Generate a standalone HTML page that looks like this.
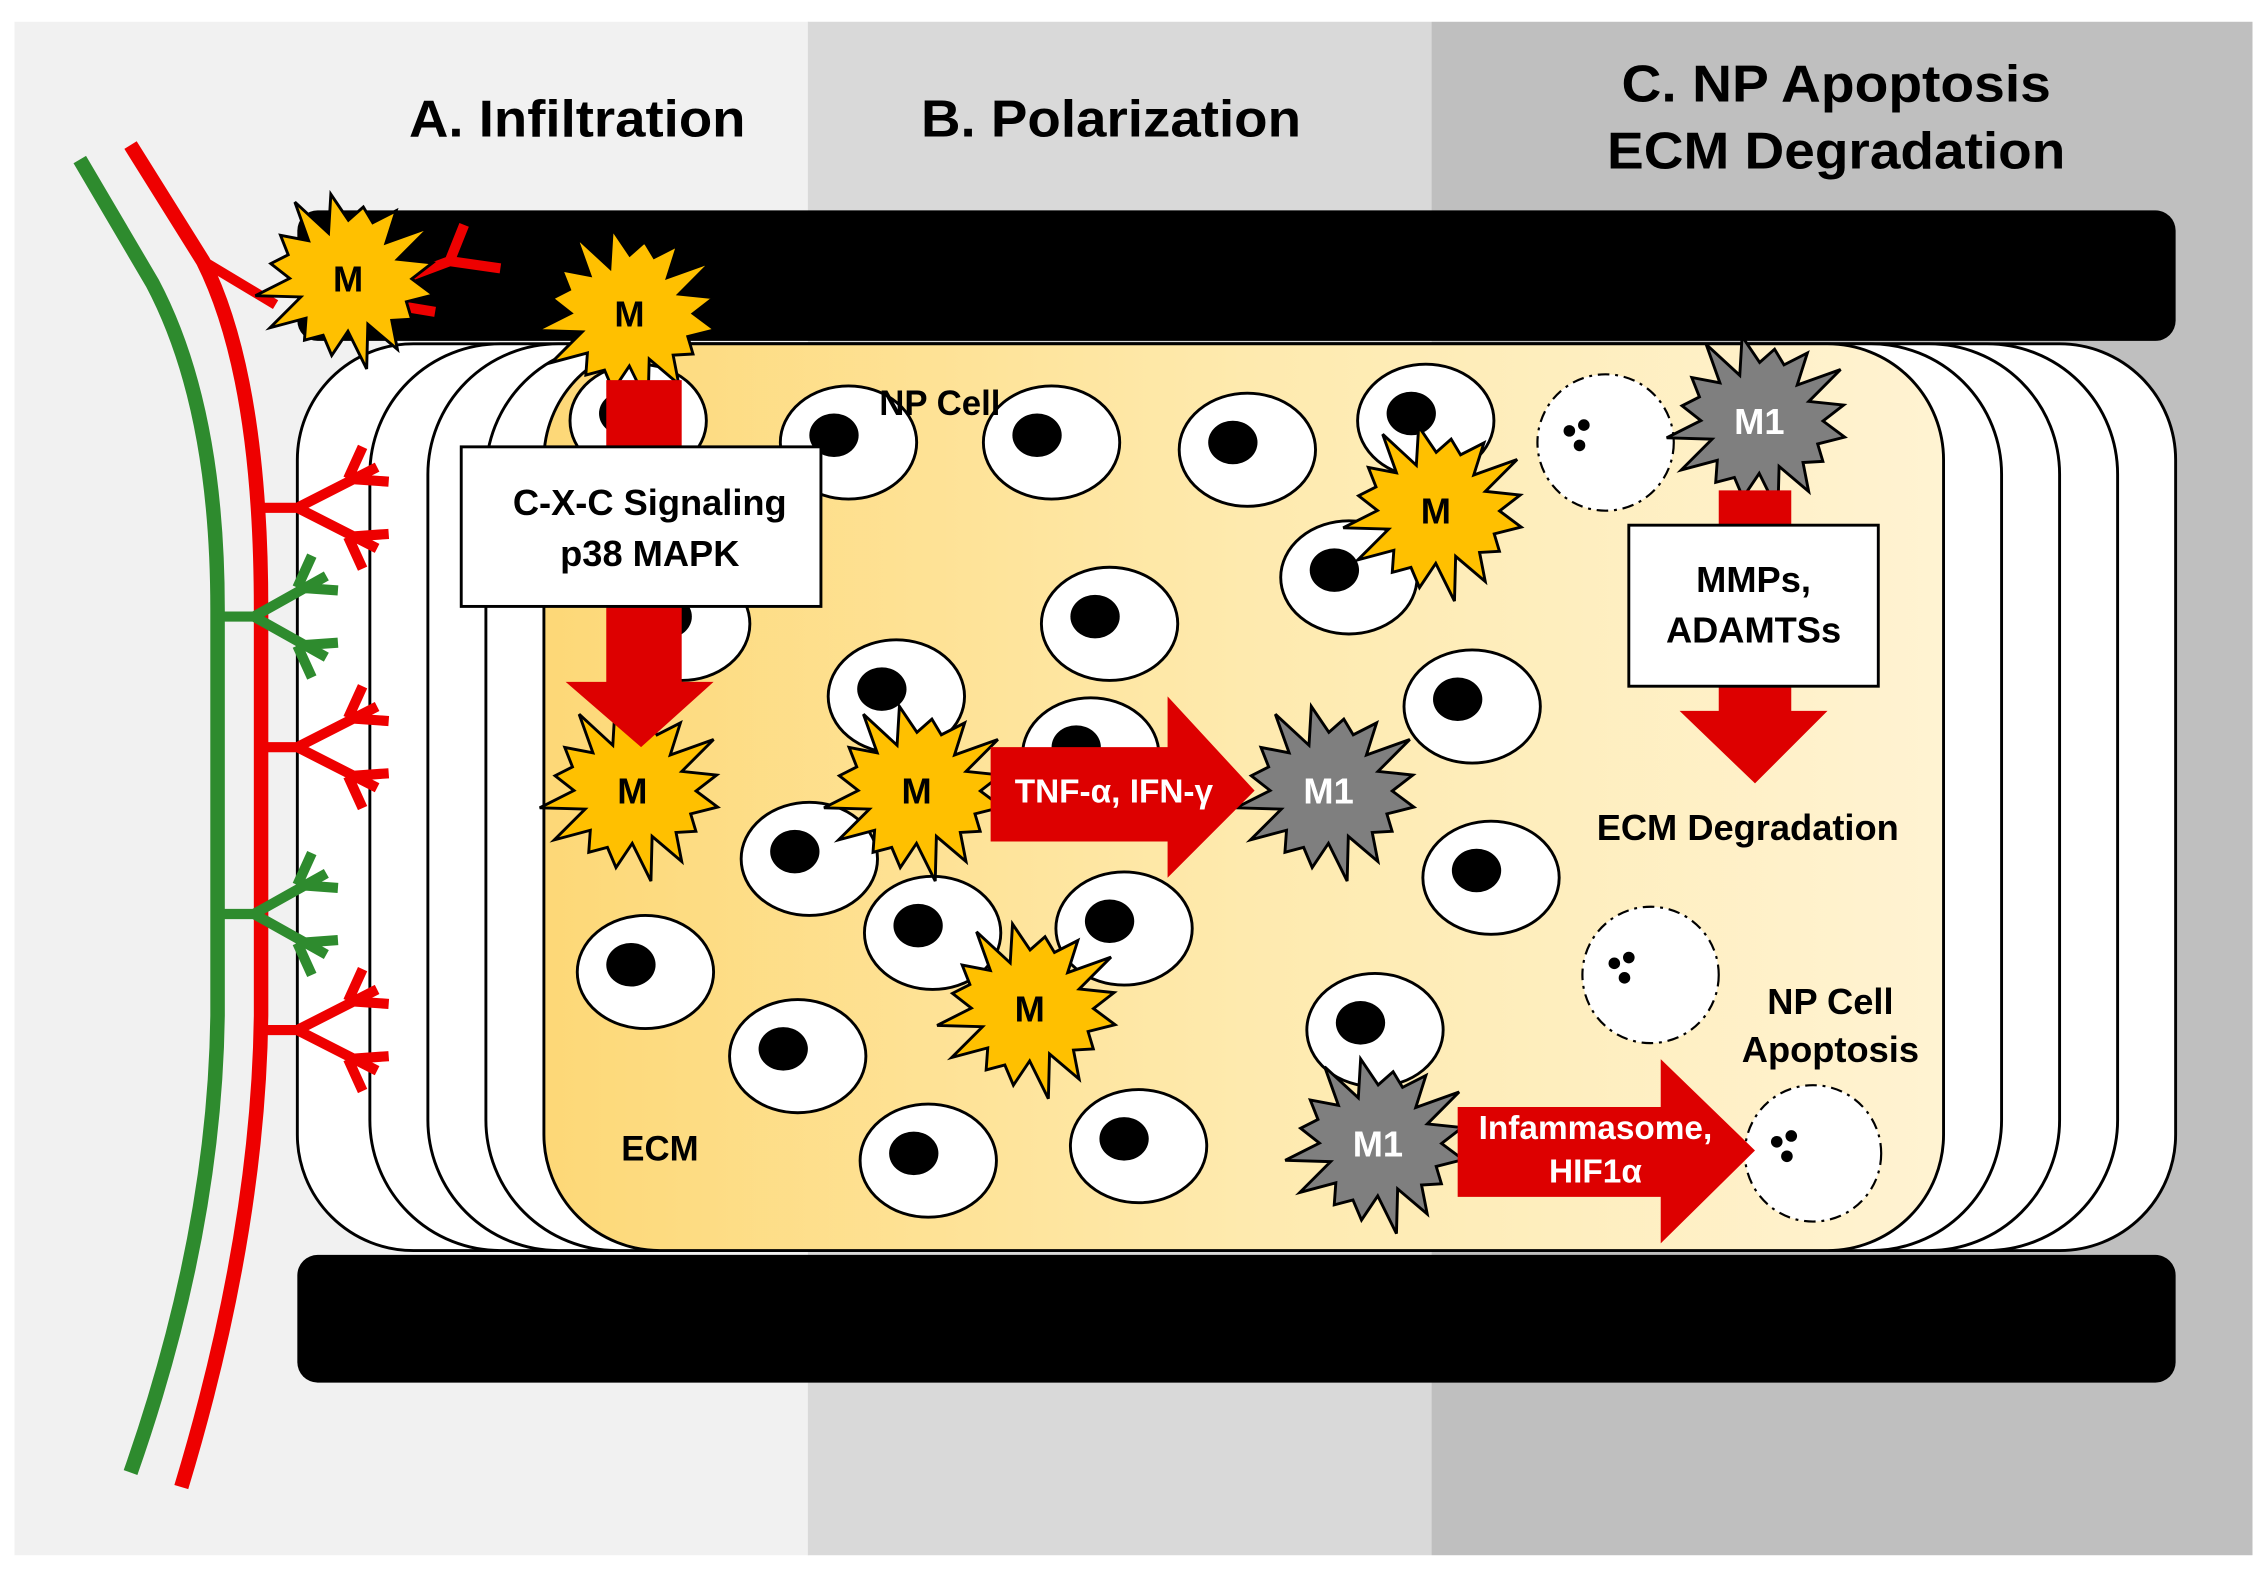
<!DOCTYPE html>
<html><head><meta charset="utf-8"><style>
html,body{margin:0;padding:0;background:#fff}
svg{display:block}
text{font-family:"Liberation Sans",Arial,sans-serif;font-weight:bold}
</style></head><body>
<svg id="s" width="2267" height="1577" viewBox="0 0 1563 1087" preserveAspectRatio="none" xmlns="http://www.w3.org/2000/svg">
<defs>
<linearGradient id="yg" x1="0" x2="1" y1="0" y2="0">
<stop offset="0" stop-color="#fdd877"/><stop offset="0.5" stop-color="#feeaae"/><stop offset="1" stop-color="#fff3d2"/>
</linearGradient>
</defs>
<rect x="0" y="0" width="1563" height="1087" fill="#fff"/>
<rect x="10" y="15" width="548" height="1057" fill="#f1f1f1"/>
<rect x="557" y="15" width="430" height="1057" fill="#d9d9d9"/>
<rect x="987" y="15" width="566" height="1057" fill="#bfbfbf"/>
<text x="398" y="94" font-size="36" text-anchor="middle" textLength="232" lengthAdjust="spacingAndGlyphs">A. Infiltration</text>
<text x="766" y="94" font-size="36" text-anchor="middle" textLength="262" lengthAdjust="spacingAndGlyphs">B. Polarization</text>
<text x="1266" y="70" font-size="36" text-anchor="middle" textLength="296" lengthAdjust="spacingAndGlyphs">C. NP Apoptosis</text>
<text x="1266" y="116" font-size="36" text-anchor="middle" textLength="316" lengthAdjust="spacingAndGlyphs">ECM Degradation</text>

<g stroke="#000" stroke-width="2" fill="#fff">
<rect x="205" y="237" width="1295" height="625" rx="80"/>
<rect x="255" y="237" width="1205" height="625" rx="90"/>
<rect x="295" y="237" width="1125" height="625" rx="90"/>
<rect x="335" y="237" width="1045" height="625" rx="90"/>
<rect x="375" y="237" width="965" height="625" rx="80" fill="url(#yg)"/>
</g>
<rect x="205" y="145" width="1295" height="90" rx="14" fill="#000"/>
<rect x="205" y="865" width="1295" height="88" rx="14" fill="#000"/>

<g fill="none" stroke-linecap="butt">
<path d="M55,110 L105,195 Q150,280 150,420 L150,700 Q148,850 90,1015" stroke="#2e8b2e" stroke-width="10"/>
<path d="M90,100 L140,180 Q180,260 180,420 L180,700 Q178,850 125,1025" stroke="#e00" stroke-width="10"/>
<g stroke="#e00" stroke-width="7">
<path d="M140,180 L190,210"/>
<path d="M270,195 L310,180 L320,155 M310,180 L345,185 M270,210 L300,215"/>
</g>
</g>
<g id="br"></g>
<g id="cells"></g>
<g id="stars"></g>

<g fill="#dd0000">
<path d="M418,262 H470 V470 H492 L442,515 L390,470 H418 Z"/>
<path d="M683,515 H805 V480 L865,545 L805,605 V580 H683 Z"/>
<path d="M1005,763 H1145 V730 L1210,793 L1145,857 V825 H1005 Z"/>
<path d="M1185,338 H1235 V490 H1260 L1210,540 L1158,490 H1185 Z"/>
</g>
<rect x="318" y="308" width="248" height="110" fill="#fff" stroke="#000" stroke-width="2"/>
<text x="448" y="355" font-size="25" text-anchor="middle">C-X-C Signaling</text>
<text x="448" y="390" font-size="25" text-anchor="middle">p38 MAPK</text>
<rect x="1123" y="362" width="172" height="111" fill="#fff" stroke="#000" stroke-width="2"/>
<text x="1209" y="408" font-size="25" text-anchor="middle">MMPs,</text>
<text x="1209" y="443" font-size="25" text-anchor="middle">ADAMTSs</text>
<text x="768" y="553" font-size="23" text-anchor="middle" fill="#fff">TNF-α, IFN-γ</text>
<text x="1100" y="785" font-size="23" text-anchor="middle" fill="#fff">Infammasome,</text>
<text x="1100" y="815" font-size="23" text-anchor="middle" fill="#fff">HIF1α</text>
<text x="648" y="286" font-size="24" text-anchor="middle">NP Cell</text>
<text x="455" y="800" font-size="24" text-anchor="middle">ECM</text>
<text x="1205" y="579" font-size="25" text-anchor="middle">ECM Degradation</text>
<text x="1262" y="699" font-size="25" text-anchor="middle">NP Cell</text>
<text x="1262" y="732" font-size="25" text-anchor="middle">Apoptosis</text>
<g id="starlabels"></g>
</svg>
<script>
var NS="http://www.w3.org/2000/svg";
function el(p,t,a){var e=document.createElementNS(NS,t);for(var k in a)e.setAttribute(k,a[k]);p.appendChild(e);return e;}
var br=document.getElementById('br');
function Y(x0,y,col,len){var s='M'+x0+','+y+' L'+(x0+25)+','+y+' M'+(x0+25)+','+y+' L'+(x0+len)+','+(y-28)+' M'+(x0+25)+','+y+' L'+(x0+len)+','+(y+28)
+' M'+(x0+len-20)+','+(y-20)+' L'+(x0+len-10)+','+(y-42)+' M'+(x0+len-20)+','+(y-20)+' L'+(x0+len+8)+','+(y-18)
+' M'+(x0+len-20)+','+(y+20)+' L'+(x0+len-10)+','+(y+42)+' M'+(x0+len-20)+','+(y+20)+' L'+(x0+len+8)+','+(y+18);
el(br,'path',{d:s,stroke:col,'stroke-width':7,fill:'none'});}
Y(180,350,'#e00',80);Y(180,515,'#e00',80);Y(180,710,'#e00',80);
Y(150,425,'#2e8b2e',75);Y(150,630,'#2e8b2e',75);
var cg=document.getElementById('cells');
var cells=[[440,290],[470,430],[585,305],[725,305],[860,310],[983,290],[930,398],[765,430],[618,480],[752,520],[558,592],[643,643],[775,640],[445,670],[550,728],[640,800],[785,790],[1015,487],[1028,605],[948,710]];
cells.forEach(function(c){el(cg,'ellipse',{cx:c[0],cy:c[1],rx:47,ry:39,fill:'#fff',stroke:'#000','stroke-width':2});
el(cg,'ellipse',{cx:c[0]-10,cy:c[1]-5,rx:17,ry:15,fill:'#000'});});
[[1107,305],[1138,672],[1250,795]].forEach(function(c){el(cg,'circle',{cx:c[0],cy:c[1],r:47,fill:'#fff',stroke:'#000','stroke-width':1.5,'stroke-dasharray':'8,4,2,4'});
el(cg,'circle',{cx:c[0]-25,cy:c[1]-8,r:4,fill:'#000'});el(cg,'circle',{cx:c[0]-15,cy:c[1]-12,r:4,fill:'#000'});el(cg,'circle',{cx:c[0]-18,cy:c[1]+2,r:4,fill:'#000'});});
var sg=document.getElementById('stars'),lg=document.getElementById('starlabels');
function star(x,y,col,lab,tc){var p=[],n=16;for(var i=0;i<2*n;i++){var a=Math.PI*i/n+0.2,r=(i%2?40:60)*(1+0.12*Math.sin(i*2.3));p.push((x+r*Math.cos(a)).toFixed(1)+','+(y+r*0.95*Math.sin(a)).toFixed(1));}
el(sg,'polygon',{points:p.join(' '),fill:col,stroke:'#000','stroke-width':2});
var t=el(lg,'text',{x:x,y:y+9,'font-size':25,'text-anchor':'middle',fill:tc});t.textContent=lab;}
[[240,192],[434,216],[436,545],[632,545],[990,352],[710,695]].forEach(function(c){star(c[0],c[1],'#ffc000','M','#000');});
[[1213,290],[916,545],[950,788]].forEach(function(c){star(c[0],c[1],'#7f7f7f','M1','#fff');});
</script>
</body></html>
